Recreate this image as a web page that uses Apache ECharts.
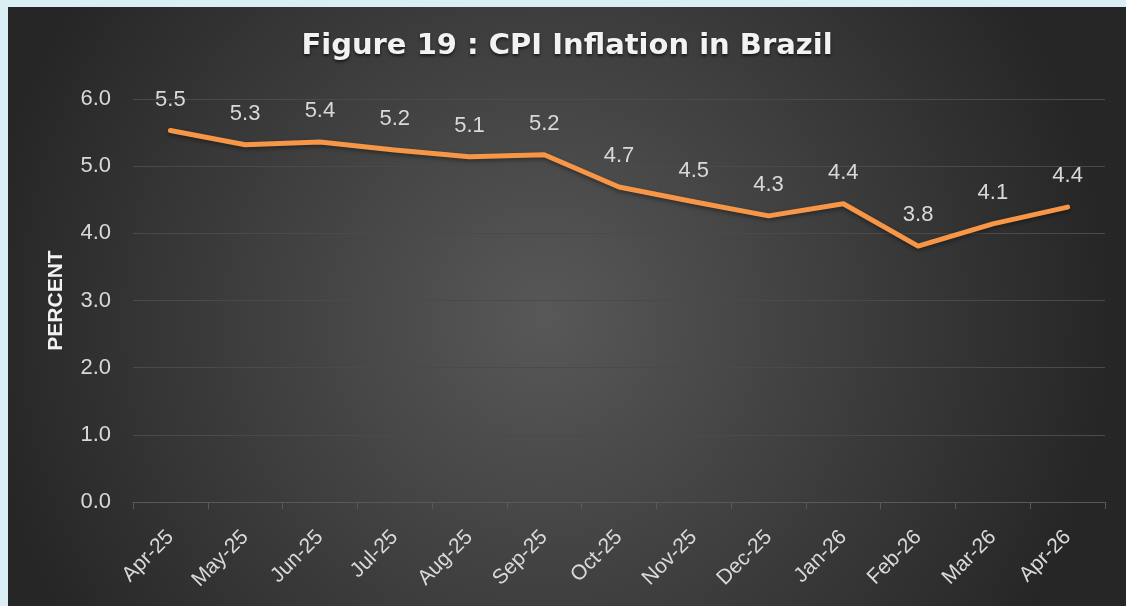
<!DOCTYPE html>
<html>
<head>
<meta charset="utf-8">
<script src="https://cdn.jsdelivr.net/npm/echarts@6/dist/echarts.min.js"></script>
<style>
  html, body { margin: 0; padding: 0; background: #daeef5; }
  #myChart { position: absolute; left: 8px; top: 7px; width: 1118px; height: 599px; }
</style>
</head>
<body>
<div id="myChart"></div>
<script>
// 数据
var months = ['Apr-25', 'May-25', 'Jun-25', 'Jul-25', 'Aug-25', 'Sep-25', 'Oct-25', 'Nov-25', 'Dec-25', 'Jan-26', 'Feb-26', 'Mar-26', 'Apr-26'];
var cpi = [5.53, 5.32, 5.36, 5.24, 5.14, 5.17, 4.69, 4.47, 4.26, 4.44, 3.81, 4.14, 4.39];

var myChart = echarts.init(document.getElementById('myChart'));

var fontMain = 'Liberation Sans, Arial, sans-serif';

myChart.setOption({
  backgroundColor: new echarts.graphic.RadialGradient(0.48, 0.52, 0.95, [
    { offset: 0, color: '#585858' },
    { offset: 1, color: '#262626' }
  ]),
  title: {
    text: 'Figure 19 : CPI Inflation in Brazil',
    left: 'center',
    top: 20,
    textStyle: {
      color: '#f2f2f2',
      fontSize: 29,
      fontWeight: 'bold',
      fontFamily: 'DejaVu Sans, sans-serif',
      textShadowColor: 'rgba(0,0,0,0.6)',
      textShadowBlur: 3,
      textShadowOffsetY: 2
    }
  },
  grid: {
    left: 125,
    right: 21,
    top: 92,
    bottom: 104,
    containLabel: false
  },
  xAxis: {
    type: 'category',
    data: months,
    boundaryGap: true,
    axisLine: { lineStyle: { color: '#595959', width: 1 } },
    axisTick: { show: true, length: 7, lineStyle: { color: '#595959' } },
    axisLabel: {
      rotate: 45,
      interval: 0,
      color: '#d9d9d9',
      fontSize: 21,
      margin: 32,
      fontFamily: fontMain
    },
    splitLine: { show: false }
  },
  yAxis: {
    type: 'value',
    min: 0,
    max: 6,
    interval: 1,
    name: 'PERCENT',
    nameLocation: 'middle',
    nameGap: 66,
    nameTextStyle: {
      color: '#f2f2f2',
      fontSize: 21,
      fontWeight: 'bold',
      fontFamily: fontMain
    },
    axisLine: { show: false },
    axisTick: { show: false },
    axisLabel: {
      color: '#d9d9d9',
      fontSize: 22,
      margin: 22,
      formatter: function (v) { return v.toFixed(1); },
      fontFamily: fontMain
    },
    splitLine: { lineStyle: { color: '#4a4a4a', width: 1 } }
  },
  series: [
    {
      name: 'CPI',
      type: 'line',
      data: cpi,
      symbol: 'circle',
      symbolSize: 2,
      showSymbol: true,
      itemStyle: { color: '#f79646' },
      lineStyle: {
        color: '#f79646',
        width: 5,
        cap: 'round',
        join: 'round',
        shadowColor: 'rgba(0,0,0,0.4)',
        shadowBlur: 4,
        shadowOffsetY: 2
      },
      label: {
        show: true,
        position: 'top',
        distance: 19,
        color: '#d9d9d9',
        fontSize: 22,
        fontFamily: fontMain,
        formatter: function (p) { return p.value.toFixed(1); }
      },
      animation: false
    }
  ]
});

window.onresize = function () {
  myChart.resize();
};
</script>
</body>
</html>
